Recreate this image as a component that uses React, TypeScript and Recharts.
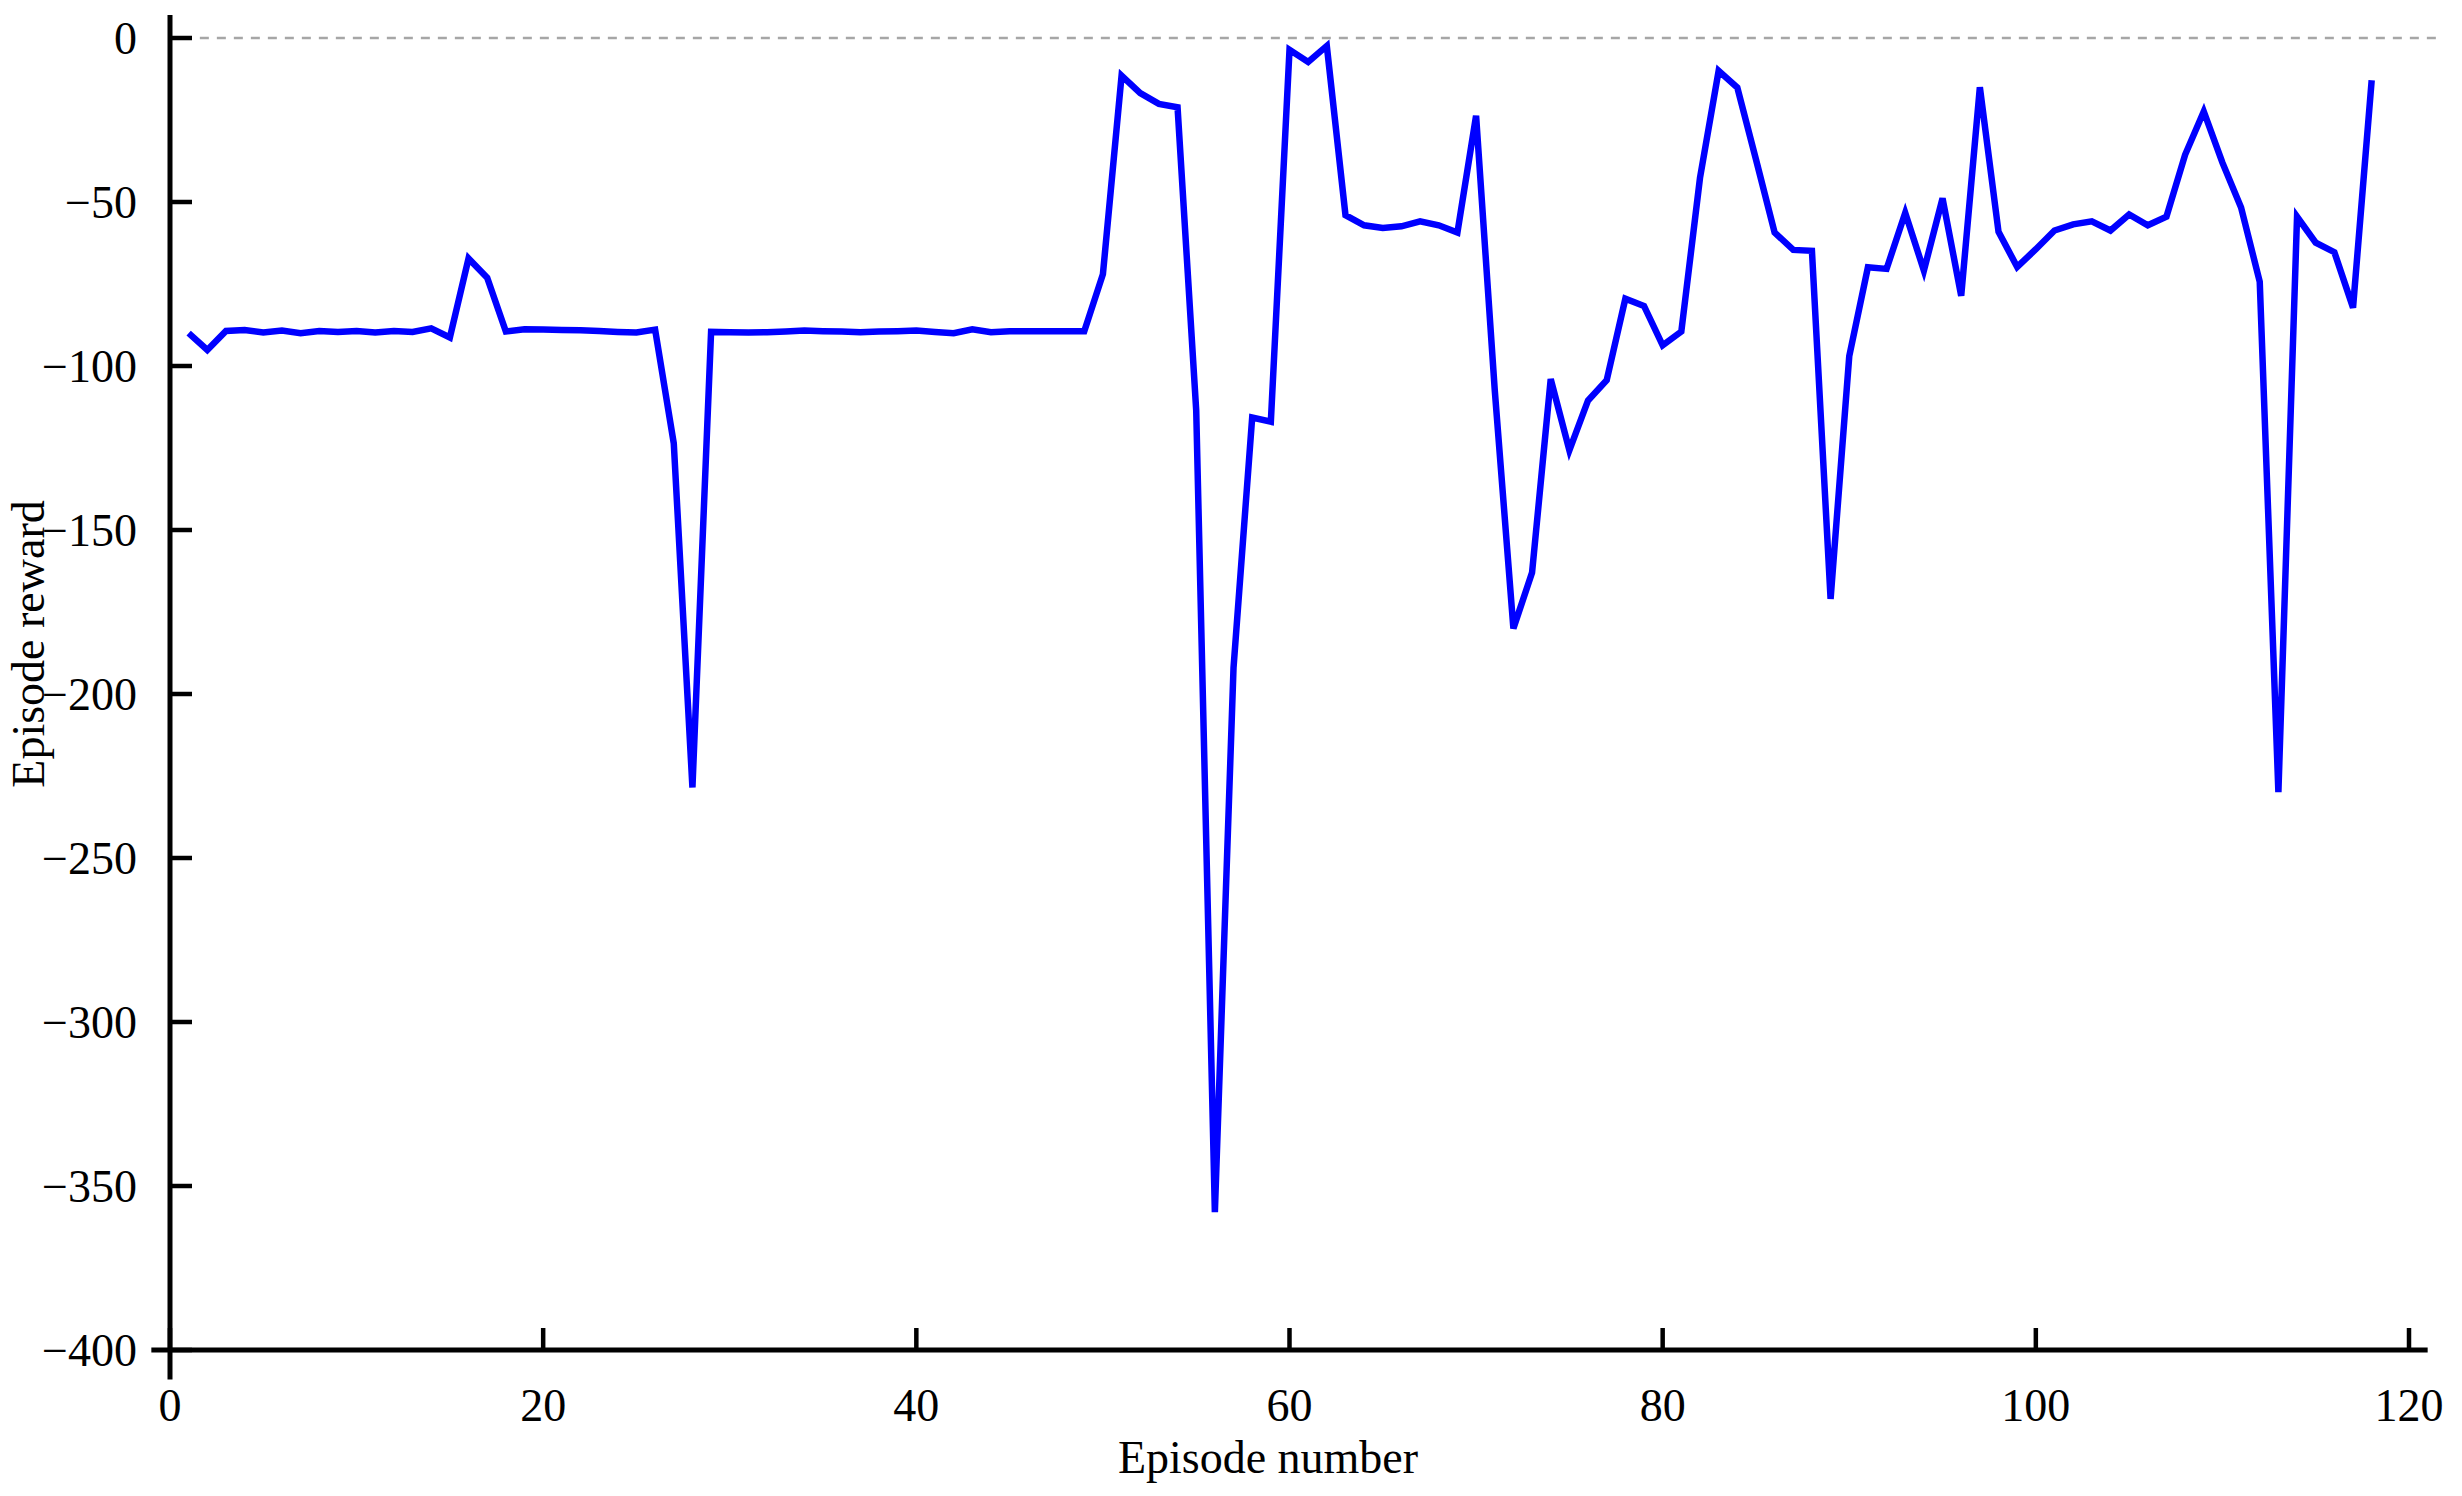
import { LineChart, Line, XAxis, YAxis, ReferenceLine } from 'recharts'

// episode reward per episode, episode number = index + 1
const rewards = [
  -90.0, -95.1, -89.3, -89.0, -89.8, -89.2, -90.0, -89.3, -89.6, -89.3,
  -89.8, -89.3, -89.6, -88.5, -91.3, -67.2, -73.1, -89.5, -88.8, -88.9,
  -89.0, -89.1, -89.3, -89.6, -89.8, -88.9, -123.6, -228.5, -89.6, -89.7,
  -89.8, -89.7, -89.5, -89.2, -89.4, -89.5, -89.7, -89.5, -89.4, -89.2,
  -89.6, -90.0, -88.8, -89.7, -89.4, -89.4, -89.4, -89.4, -89.4, -72.0,
  -11.5, -16.8, -20.1, -21.1, -113.5, -358.0, -192.0, -115.7, -117.0, -3.6,
  -7.3, -2.4, -54.0, -57.1, -57.9, -57.4, -55.9, -57.1, -59.3, -23.7,
  -107.3, -180.0, -163.0, -104.0, -125.7, -110.5, -104.3, -79.5, -81.7, -93.7,
  -89.5, -42.7, -10.0, -15.1, -37.0, -59.3, -64.6, -64.9, -171.0, -97.0,
  -69.9, -70.4, -53.3, -70.9, -48.9, -78.6, -15.0, -59.1, -69.8, -64.4,
  -58.7, -56.8, -55.9, -58.7, -53.8, -57.1, -54.5, -35.6, -22.4, -38.0,
  -51.7, -74.3, -229.9, -54.5, -62.4, -65.3, -82.2, -12.9,
]

const xTicks = [0, 20, 40, 60, 80, 100, 120]
const yTicks = [0, -50, -100, -150, -200, -250, -300, -350, -400]

const data = rewards.map((r, i) => ({ episode: i + 1, reward: r }))

const FONT = '"Liberation Serif", "Times New Roman", serif'
const fmt = (v: number) => (v < 0 ? `\u2212${Math.abs(v)}` : `${v}`)

const XTick = ({ x, y, payload }: any) => (
  <g>
    <line x1={x} x2={x} y1={y} y2={y - 22} stroke="#000" strokeWidth={4.5} />
    <text x={x} y={y + 71} textAnchor="middle" fontSize={46} fontFamily={FONT} fill="#000">
      {fmt(payload.value)}
    </text>
  </g>
)

const YTick = ({ x, y, payload }: any) => (
  <g>
    <line x1={x} x2={x + 22} y1={y} y2={y} stroke="#000" strokeWidth={4.5} />
    <text x={x - 33} y={y} dy="0.35em" textAnchor="end" fontSize={46} fontFamily={FONT} fill="#000">
      {fmt(payload.value)}
    </text>
  </g>
)

export default function App() {
  return (
    <div style={{ position: 'absolute', left: 0, top: 0, background: '#fff' }}>
      <LineChart
        width={2462}
        height={1496}
        data={data}
        margin={{ top: 38, right: 53, bottom: 0, left: 0 }}
      >
        <XAxis
          type="number"
          dataKey="episode"
          domain={[0, 120]}
          ticks={xTicks}
          interval={0}
          height={146}
          axisLine={false}
          tickLine={false}
          tickSize={0}
          tickMargin={0}
          tick={<XTick />}
          label={() => (
            <text x={1268} y={1473} textAnchor="middle" fontSize={46} fontFamily={FONT} fill="#000">
              Episode number
            </text>
          )}
        />
        <YAxis
          type="number"
          domain={[-400, 0]}
          ticks={yTicks}
          interval={0}
          width={170}
          axisLine={false}
          tickLine={false}
          tickSize={0}
          tickMargin={0}
          tick={<YTick />}
          label={() => (
            <text
              x={44}
              y={644}
              transform="rotate(-90 44 644)"
              textAnchor="middle"
              fontSize={46}
              fontFamily={FONT}
              fill="#000"
            >
              Episode reward
            </text>
          )}
        />
        <ReferenceLine
          segment={[{ x: 1.6, y: 0 }, { x: 121.8, y: 0 }]}
          stroke="#a6a6a6"
          strokeWidth={2.5}
          strokeDasharray="9 8"
          ifOverflow="visible"
        />
        <ReferenceLine
          segment={[{ x: -1, y: -400 }, { x: 121, y: -400 }]}
          stroke="#000"
          strokeWidth={5}
          ifOverflow="visible"
        />
        <ReferenceLine
          segment={[{ x: 0, y: 7 }, { x: 0, y: -409 }]}
          stroke="#000"
          strokeWidth={5}
          ifOverflow="visible"
        />
        <Line
          type="linear"
          dataKey="reward"
          stroke="#0000ff"
          strokeWidth={6.5}
          strokeLinejoin="miter"
          dot={false}
          activeDot={false}
          isAnimationActive={false}
        />
      </LineChart>
    </div>
  )
}
